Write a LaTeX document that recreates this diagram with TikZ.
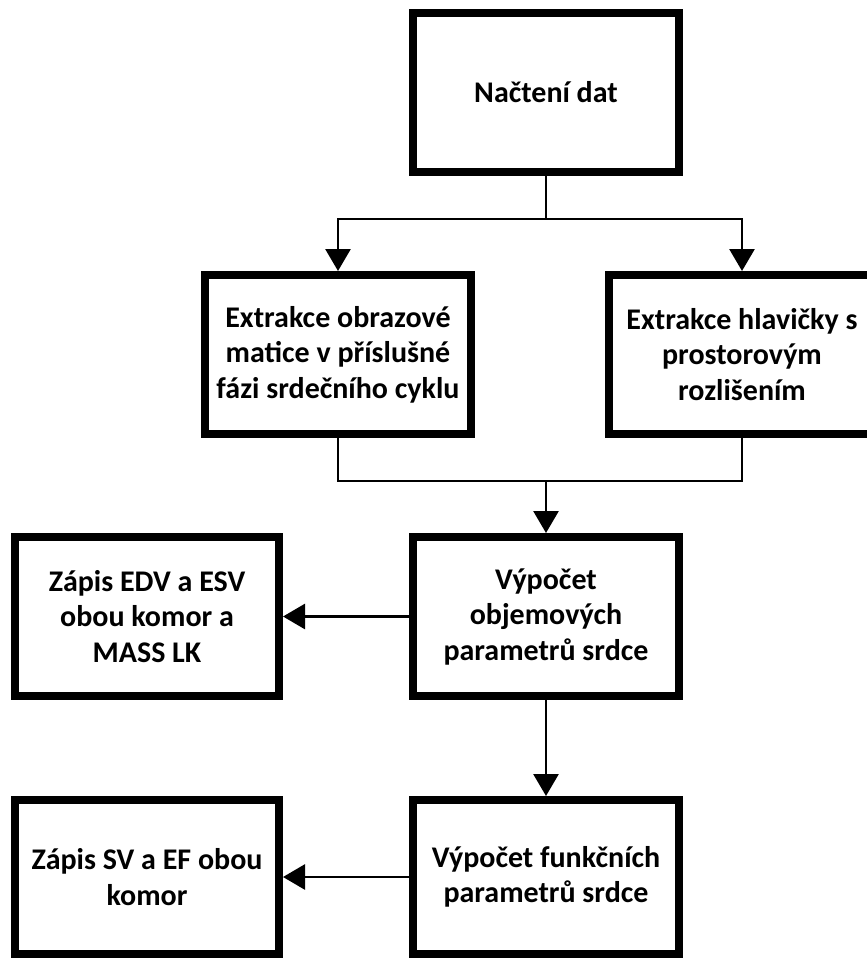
\documentclass[tikz,border=0pt]{standalone}
\usepackage{fontspec}
\setmainfont{Carlito}
\usetikzlibrary{arrows.meta}
\begin{document}
\begin{tikzpicture}[x=1pt,y=-1pt,
  box/.style={draw=black, line width=8pt, fill=white, minimum width=266pt, minimum height=159pt,
    align=center, inner sep=0pt, font=\fontsize{30}{35.5}\selectfont\bfseries},
  conn/.style={draw=black, line width=2.8pt},
  arr/.style={conn, -{Triangle[length=22pt,width=25pt]}}]
\useasboundingbox (0,0) rectangle (867,958);
\node[box] (load) at (546,92.5) {Načtení dat};
\node[box] (img) at (338,354.5) {Extrakce obrazové\\matice v příslušné\\fázi srdečního cyklu};
\node[box] (hdr) at (742,354.5) {Extrakce hlavičky s\\prostorovým\\rozlišením};
\node[box] (vol) at (546,616.5) {Výpočet\\objemových\\parametrů srdce};
\node[box, minimum width=264pt] (wvol) at (147,616.5) {Zápis EDV a ESV\\obou komor a\\MASS LK};
\node[box, minimum height=154pt] (fun) at (546,877) {Výpočet funkčních\\parametrů srdce};
\node[box, minimum width=264pt, minimum height=154pt] (wfun) at (147,877) {Zápis SV a EF obou\\komor};
\coordinate (split) at (546,219);
\coordinate (join) at (546,481);
\draw[conn] (load.south) -- (split);
\draw[arr] (split) -| (img.north);
\draw[arr] (split) -| (hdr.north);
\draw[conn] (img.south) |- (join);
\draw[conn] (hdr.south) |- (join);
\draw[arr] (join) -- (vol.north);
\draw[arr] (vol.west) -- (wvol.east);
\draw[arr] (vol.south) -- (fun.north);
\draw[arr] (fun.west) -- (wfun.east);
\end{tikzpicture}
\end{document}
